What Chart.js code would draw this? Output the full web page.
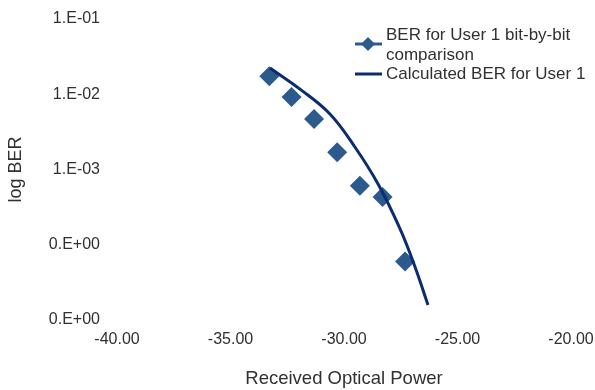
<!DOCTYPE html>
<html>
<head>
<meta charset="utf-8">
<script src="https://cdn.jsdelivr.net/npm/chart.js@4.4.0/dist/chart.umd.min.js"></script>
<style>
  html, body { margin: 0; padding: 0; background: #fff; }
  #wrap { width: 595px; height: 390px; position: relative; }
</style>
</head>
<body>
<div id="wrap"><canvas id="ber-chart" width="595" height="390"></canvas></div>
<script>
// values
const xTickValues = [-40, -35, -30, -25, -20];
const yTickValues = [1e-1, 1e-2, 1e-3, 1e-4, 1e-5];
const yTickLabels = ['1.E-01', '1.E-02', '1.E-03', '0.E+00', '0.E+00'];

const measuredPower = [-33.29, -32.31, -31.32, -30.30, -29.30, -28.30, -27.31];
const measuredBER = [1.74e-2, 9.2e-3, 4.7e-3, 1.7e-3, 6.1e-4, 4.3e-4, 6.0e-5];

const calcPower = [-33.26, -31.94, -30.62, -29.52, -28.50, -27.53, -26.87, -26.30];
const calcBER = [2.23e-2, 1.17e-2, 5.47e-3, 1.99e-3, 6.41e-4, 1.62e-4, 5.06e-5, 1.58e-5];

const legendLabels = [['BER for User 1 bit-by-bit', 'comparison'], ['Calculated BER for User 1']];

const textColor = '#303030';
const markerColor = '#2d5a8c';
const lineColor = '#0b2c6e';
const fontFamily = '"Liberation Sans", Arial, sans-serif';

function toPoints(xs, ys) {
    return xs.map((x, i) => ({ x: x, y: ys[i] }));
}

// small legend in the top right like the Excel original
const excelLegend = {
    id: 'excelLegend',
    afterDraw(chart) {
        const ctx = chart.ctx;
        const ds = chart.data.datasets;
        ctx.save();
        ctx.font = '17px ' + fontFamily;
        ctx.textBaseline = 'middle';
        ctx.textAlign = 'left';

        // first entry: diamond on a short line
        ctx.strokeStyle = ds[0].backgroundColor;
        ctx.lineWidth = 3;
        ctx.beginPath();
        ctx.moveTo(355, 44);
        ctx.lineTo(382, 44);
        ctx.stroke();
        ctx.fillStyle = ds[0].backgroundColor;
        ctx.beginPath();
        ctx.moveTo(368, 37); ctx.lineTo(375, 44); ctx.lineTo(368, 51); ctx.lineTo(361, 44);
        ctx.closePath();
        ctx.fill();
        ctx.fillStyle = textColor;
        legendLabels[0].forEach((t, i) => ctx.fillText(t, 386, 35 + i * 20));

        // second entry: plain line
        ctx.strokeStyle = ds[1].borderColor;
        ctx.lineWidth = 3;
        ctx.beginPath();
        ctx.moveTo(355, 74);
        ctx.lineTo(382, 74);
        ctx.stroke();
        ctx.fillText(legendLabels[1][0], 386, 74);
        ctx.restore();
    }
};

const ctx = document.getElementById('ber-chart').getContext('2d');
new Chart(ctx, {
    type: 'scatter',
    data: {
        datasets: [
            {
                label: legendLabels[0].join(' '),
                data: toPoints(measuredPower, measuredBER),
                pointStyle: 'rectRot',
                pointRadius: 10,
                pointHoverRadius: 10,
                backgroundColor: markerColor,
                borderColor: markerColor,
                borderWidth: 0,
                showLine: false,
                order: 2
            },
            {
                label: legendLabels[1][0],
                data: toPoints(calcPower, calcBER),
                showLine: true,
                pointRadius: 0,
                borderColor: lineColor,
                backgroundColor: lineColor,
                borderWidth: 3,
                tension: 0.4,
                order: 1
            }
        ]
    },
    options: {
        responsive: false,
        animation: false,
        layout: { padding: { left: 0, right: 24, top: 19, bottom: 0 } },
        plugins: {
            legend: { display: false },
            tooltip: { enabled: false }
        },
        scales: {
            x: {
                type: 'linear',
                min: -40,
                max: -20,
                afterBuildTicks: (scale) => {
                    scale.ticks = xTickValues.map(v => ({ value: v }));
                },
                afterFit: (scale) => {
                    scale.height = 70;
                    scale.paddingLeft = 0;
                    scale.paddingRight = 0;
                },
                grid: { display: false, drawTicks: false },
                border: { display: false },
                ticks: {
                    padding: 10,
                    color: textColor,
                    font: { family: fontFamily, size: 16 },
                    maxRotation: 0,
                    callback: (v) => Number(v).toFixed(2)
                },
                title: {
                    display: true,
                    text: 'Received Optical Power',
                    color: textColor,
                    padding: { top: 0, bottom: 0 },
                    font: { family: fontFamily, size: 18.5 }
                }
            },
            y: {
                type: 'logarithmic',
                min: 1e-5,
                max: 1e-1,
                afterBuildTicks: (scale) => {
                    scale.ticks = yTickValues.map(v => ({ value: v }));
                },
                afterFit: (scale) => {
                    scale.width = 117;
                    scale.paddingTop = 0;
                    scale.paddingBottom = 0;
                },
                grid: { display: false, drawTicks: false },
                border: { display: false },
                ticks: {
                    padding: 17,
                    color: textColor,
                    font: { family: fontFamily, size: 16 },
                    callback: (v) => {
                        const i = yTickValues.findIndex(t => Math.abs(t - v) / t < 1e-6);
                        return i >= 0 ? yTickLabels[i] : '';
                    }
                },
                title: {
                    display: true,
                    text: 'log BER',
                    color: textColor,
                    padding: { top: 5, bottom: 0 },
                    font: { family: fontFamily, size: 18 }
                }
            }
        }
    },
    plugins: [excelLegend]
});
</script>
</body>
</html>
